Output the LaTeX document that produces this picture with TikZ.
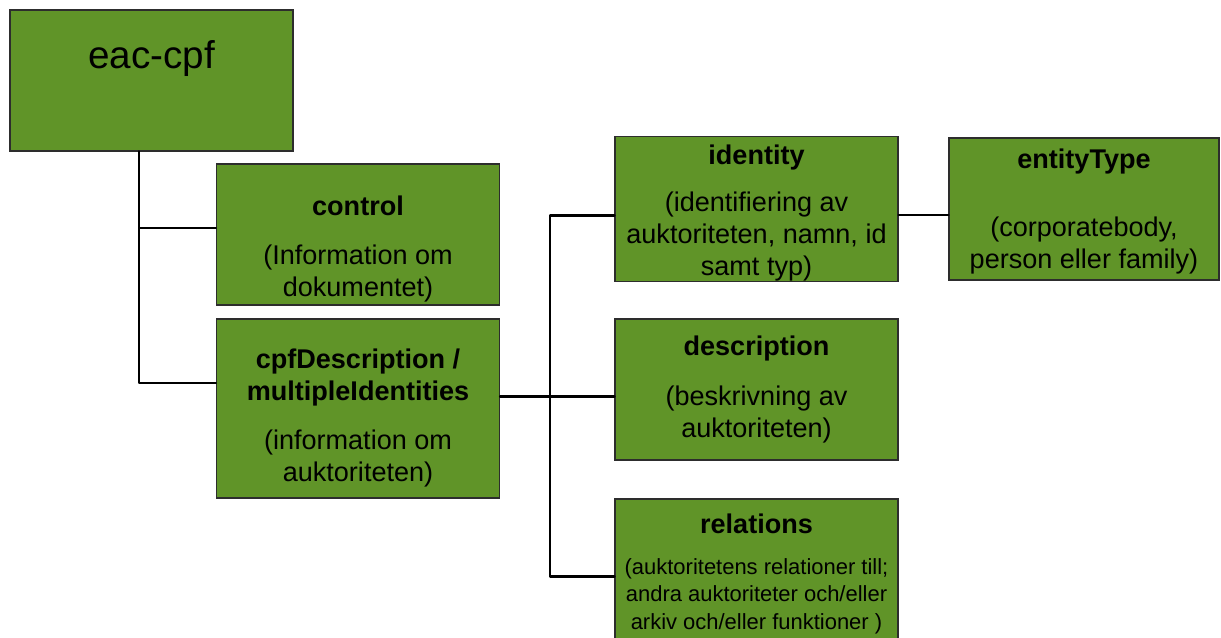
\documentclass[tikz,border=0pt]{standalone}
\usepackage{fontspec}
\setmainfont{Liberation Sans}
\usetikzlibrary{calc}
\definecolor{leaf}{RGB}{96,148,40}
\definecolor{rim}{RGB}{45,45,45}

\tikzset{
  box/.style={draw=rim,line width=.8pt,fill=leaf,minimum width=5.66cm,
    minimum height=2.82cm,align=center,inner sep=0pt,
    font=\fontsize{15.4}{18.2}\selectfont},
  link/.style={line width=1.6pt,line cap=round,line join=round}
}

\begin{document}
\begin{tikzpicture}[x=.02cm,y=-.02cm]
    \useasboundingbox (0,0) rectangle (1221,637);
    % left column
    \node[box,text height=16pt,text depth=30pt,font=\fontsize{22}{26}\selectfont] (eac) at (151.5,80.5) {eac-cpf};
    \node[box] (ctrl) at (358,234.5) {\rule{0pt}{28pt}\textbf{control}\\[9.7pt]
      (Information om\\dokumentet)};
    \node[box,minimum height=3.58cm] (cpf) at (358,408.5) {\rule{0pt}{22pt}\textbf{cpfDescription /}\\
      \textbf{multipleIdentities}\\[10pt](information om\\auktoriteten)};
    % right column
    \node[box,minimum height=2.84cm] (ident) at (756.5,209) {\rule{0pt}{16pt}\textbf{identity}\\[8.5pt]
      (identifiering av\\auktoriteten, namn, id\\samt typ)};
    \node[box,minimum width=5.4cm,minimum height=2.84cm] (etype) at (1084,209) {\rule{0pt}{14pt}\textbf{entityType}\\[20pt]
      (corporatebody,\\person eller family)};
    \node[box] (descr) at (756.5,389.5) {\textbf{description}\\[10pt]
      (beskrivning av\\auktoriteten)};
    \node[box,minimum height=2.84cm,font=\fontsize{12.5}{15.5}\selectfont] (rel) at (756.5,570)
      {\rule{0pt}{15.5pt}{\fontsize{15.4}{18.2}\selectfont\bfseries relations}\\[8pt]
      (auktoritetens relationer till;\\andra auktoriteter och/eller\\arkiv och/eller funktioner )};
    % connectors
    \coordinate (trunk) at ([xshift=-.25cm]eac.south);
    \coordinate (fork) at (550,396.7);
    \draw[link] (trunk) |- ([yshift=.13cm]ctrl.west);
    \draw[link] (trunk) |- ([yshift=.51cm]cpf.west);
    \draw[link] (cpf.east |- fork) -- (descr.west |- fork);
    \draw[link] ([yshift=-.13cm]ident.west) -| (fork) |- ([yshift=-.13cm]rel.west);
    \draw[link] ([yshift=-.12cm]ident.east) -- ([yshift=-.12cm]etype.west);
  \end{tikzpicture}
\end{document}
